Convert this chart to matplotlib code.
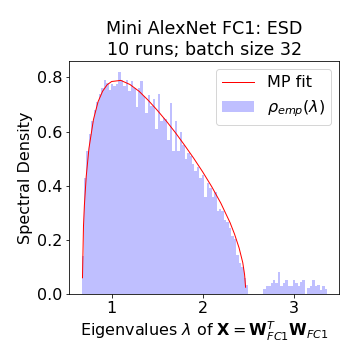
import numpy as np
import matplotlib
matplotlib.use('Agg')
import matplotlib.pyplot as plt

# histogram of eigenvalues (100 bins), density values
lam_lo = 0.669
lam_hi = 3.366
n_bins = 100
rho_emp = [
    0.14, 0.43, 0.53, 0.59, 0.64, 0.68, 0.71, 0.74, 0.76, 0.79,
    0.78, 0.755, 0.775, 0.77, 0.775, 0.82, 0.79, 0.77, 0.79, 0.75,
    0.785, 0.76, 0.69, 0.76, 0.785, 0.73, 0.67, 0.735, 0.695, 0.72,
    0.61, 0.74, 0.64, 0.65, 0.645, 0.57, 0.705, 0.53, 0.64, 0.53,
    0.60, 0.55, 0.50, 0.52, 0.51, 0.48, 0.455, 0.47, 0.43, 0.44,
    0.36, 0.41, 0.39, 0.36, 0.375, 0.305, 0.315, 0.305, 0.275, 0.265,
    0.245, 0.215, 0.205, 0.145, 0.115, 0.10, 0.06, 0.035, 0.0, 0.0,
    0.0, 0.0, 0.0, 0.0, 0.02, 0.03, 0.03, 0.04, 0.052, 0.04,
    0.083, 0.03, 0.04, 0.052, 0.03, 0.03, 0.052, 0.04, 0.03, 0.045,
    0.052, 0.0, 0.022, 0.03, 0.052, 0.03, 0.034, 0.015, 0.03, 0.02,
]

# Marchenko-Pastur fit curve
mp_x = [0.679, 0.69, 0.70, 0.72, 0.75, 0.80, 0.85, 0.90, 0.95, 1.00,
        1.10, 1.20, 1.30, 1.40, 1.50, 1.60, 1.70, 1.80, 1.90, 2.00,
        2.10, 2.20, 2.30, 2.35, 2.40, 2.44, 2.46, 2.471]
mp_y = [0.06, 0.251, 0.328, 0.434, 0.538, 0.645, 0.710, 0.749, 0.773, 0.785,
        0.789, 0.774, 0.749, 0.716, 0.679, 0.639, 0.596, 0.550, 0.502, 0.451,
        0.396, 0.335, 0.264, 0.221, 0.170, 0.116, 0.072, 0.025]

edges = np.linspace(lam_lo, lam_hi, n_bins + 1)
bin_w = edges[1] - edges[0]

fig = plt.figure(figsize=(5, 5), dpi=72)
ax = fig.add_axes([0.1925, 0.1833, 0.75, 0.6475])

ax.plot(mp_x, mp_y, color='red', linewidth=1, label='MP fit')
ax.bar(edges[:-1], rho_emp, width=bin_w, align='edge', color='blue',
       alpha=0.25, linewidth=0, label=r'$\rho_{emp}(\lambda)$')

ax.set_xticks([1, 2, 3])
ax.set_yticks([0.0, 0.2, 0.4, 0.6, 0.8])
ax.tick_params(labelsize=16)
ax.set_xlabel(r'Eigenvalues $\lambda$ of $\mathbf{X}=\mathbf{W}^{T}_{FC1}\mathbf{W}_{FC1}$', fontsize=16)
ax.set_ylabel('Spectral Density', fontsize=16)
ax.set_title('Mini AlexNet FC1: ESD\n10 runs; batch size 32', fontsize=17.5)
ax.legend(loc='upper right', fontsize=16)

plt.savefig('out.png', dpi=72)
plt.close()
